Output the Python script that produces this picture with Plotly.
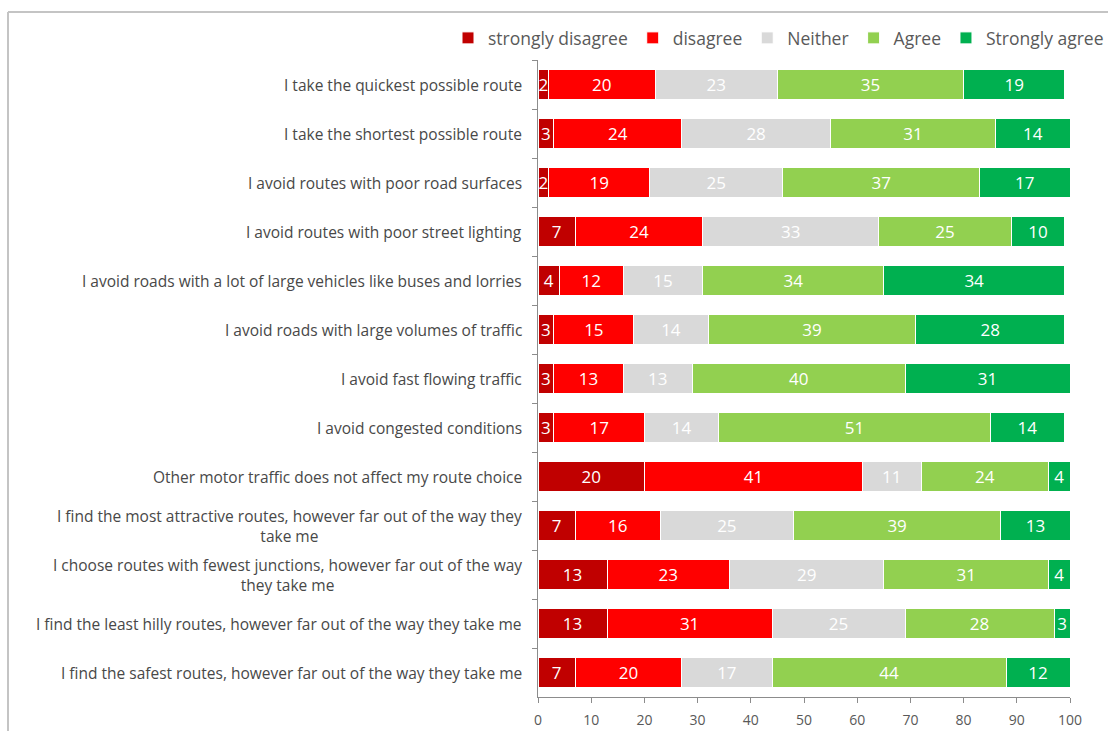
import plotly.graph_objects as go

# Survey statements, listed top to bottom
statements = [
    "I take the quickest possible route",
    "I take the shortest possible route",
    "I avoid routes with poor road surfaces",
    "I avoid routes with poor street lighting",
    "I avoid roads with a lot of large vehicles like buses and lorries",
    "I avoid roads with large volumes of traffic",
    "I avoid fast flowing traffic",
    "I avoid congested conditions",
    "Other motor traffic does not affect my route choice",
    "I find the most attractive routes, however far out of the way they<br>take me",
    "I choose routes with fewest junctions, however far out of the way<br>they take me",
    "I find the least hilly routes, however far out of the way they take me",
    "I find the safest routes, however far out of the way they take me",
]

# Percentage of respondents per answer
strongly_disagree = [2, 3, 2, 7, 4, 3, 3, 3, 20, 7, 13, 13, 7]
disagree = [20, 24, 19, 24, 12, 15, 13, 17, 41, 16, 23, 31, 20]
neither = [23, 28, 25, 33, 15, 14, 13, 14, 11, 25, 29, 25, 17]
agree = [35, 31, 37, 25, 34, 39, 40, 51, 24, 39, 31, 28, 44]
strongly_agree = [19, 14, 17, 10, 34, 28, 31, 14, 4, 13, 4, 3, 12]

series_names = ["strongly disagree", "disagree", "Neither", "Agree", "Strongly agree"]
x_ticks = [0, 10, 20, 30, 40, 50, 60, 70, 80, 90, 100]

series_values = [strongly_disagree, disagree, neither, agree, strongly_agree]
colors = ["#C00000", "#FF0000", "#D9D9D9", "#92D050", "#00B050"]

W, H = 1108, 731
ML, MR, MT, MB = 538, 38, 60, 34
PW, PH = W - ML - MR, H - MT - MB

fig = go.Figure()
for name, vals, col in zip(series_names, series_values, colors):
    fig.add_trace(go.Bar(
        name=name,
        y=statements,
        x=vals,
        orientation="h",
        marker=dict(color=col, line=dict(color="white", width=1)),
        text=vals,
        texttemplate="%{text}",
        textposition="inside",
        insidetextanchor="middle",
        textangle=0,
        textfont=dict(family="Open Sans", size=17, color="white"),
        hoverinfo="x+y+name",
    ))

# Category labels on the left, right-aligned against the axis
for s in statements:
    fig.add_annotation(
        x=0, xref="paper", xanchor="right", xshift=-14,
        y=s, yref="y", yanchor="middle",
        text=s, showarrow=False, align="center",
        font=dict(family="Open Sans", size=15.5, color="#484848"),
    )

def px_x(p):
    return (p - ML) / PW

def px_y(p):
    return (H - MB - p) / PH

# Light frame around the chart area
fig.add_shape(type="line", xref="paper", yref="paper",
              x0=px_x(8), x1=px_x(W + 5), y0=px_y(12), y1=px_y(12),
              line=dict(color="#C4C4C4", width=2))
fig.add_shape(type="line", xref="paper", yref="paper",
              x0=px_x(8), x1=px_x(8), y0=px_y(12), y1=px_y(H + 5),
              line=dict(color="#C4C4C4", width=2))

fig.update_layout(
    width=W, height=H,
    margin=dict(l=ML, r=MR, t=MT, b=MB, autoexpand=False),
    barmode="stack",
    bargap=0.38,
    plot_bgcolor="white",
    paper_bgcolor="white",
    uniformtext=dict(minsize=17, mode="show"),
    font=dict(family="Open Sans", color="#595959"),
    legend=dict(
        orientation="h",
        x=px_x(448), xanchor="left",
        y=px_y(38), yanchor="middle",
        font=dict(family="Open Sans", size=17.5, color="#595959"),
        traceorder="normal",
        bgcolor="rgba(0,0,0,0)",
    ),
    xaxis=dict(
        range=[0, 100],
        tickvals=x_ticks,
        ticktext=[str(t) for t in x_ticks],
        showgrid=False,
        zeroline=False,
        showline=True,
        linecolor="#8C8C8C",
        linewidth=1,
        ticks="outside",
        ticklen=5,
        tickcolor="#8C8C8C",
        ticklabelstandoff=5,
        tickfont=dict(family="Open Sans", size=14, color="#595959"),
    ),
    yaxis=dict(
        categoryorder="array",
        categoryarray=statements,
        autorange="reversed",
        showticklabels=False,
        showgrid=False,
        zeroline=False,
        showline=True,
        linecolor="#8C8C8C",
        linewidth=1,
        ticks="outside",
        tickson="boundaries",
        ticklen=5,
        tickcolor="#8C8C8C",
    ),
)

fig.write_html("out.html")
